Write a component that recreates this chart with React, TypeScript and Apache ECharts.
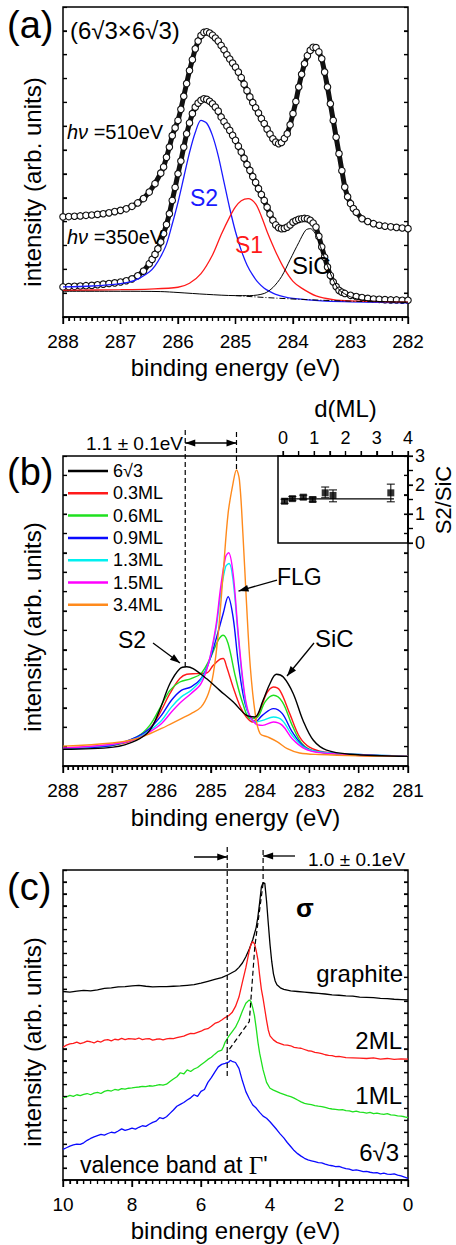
import React, { useEffect, useRef } from "react";
import * as echarts from "echarts";

const FONT = "'Liberation Sans', Arial, Helvetica, sans-serif";

// ---------- Panel (a): C 1s of the (6√3×6√3) layer ----------
const aSpec510: number[][] = [
  [288.0, 32.3], [287.9, 32.4], [287.8, 32.5], [287.7, 32.6], [287.6, 32.8], [287.5, 32.9], [287.4, 33.1], [287.3, 33.3],
  [287.2, 33.6], [287.1, 34.0], [287.0, 34.4], [286.9, 34.9], [286.8, 35.7], [286.7, 36.8], [286.6, 38.2], [286.5, 40.3],
  [286.4, 43.0], [286.3, 46.4], [286.25, 48.4], [286.2, 51.5], [286.15, 54.8], [286.1, 58.5], [286.05, 61.0], [286.0, 63.4],
  [285.95, 67.0], [285.9, 71.2], [285.85, 75.3], [285.8, 79.5], [285.75, 83.0], [285.7, 86.5], [285.65, 89.0], [285.6, 90.8],
  [285.55, 91.8], [285.5, 92.0], [285.45, 91.6], [285.4, 90.9], [285.35, 90.0], [285.3, 89.0], [285.25, 87.6], [285.2, 86.2],
  [285.15, 84.6], [285.1, 83.2], [285.05, 81.9], [285.0, 80.6], [284.95, 79.0], [284.9, 77.2], [284.85, 75.1], [284.8, 73.0],
  [284.75, 71.0], [284.7, 69.2], [284.65, 67.5], [284.6, 65.8], [284.55, 64.0], [284.5, 62.4], [284.45, 60.6], [284.4, 59.0],
  [284.35, 57.5], [284.3, 56.4], [284.25, 55.9], [284.2, 56.3], [284.15, 57.6], [284.1, 59.1], [284.05, 62.0], [284.0, 65.6],
  [283.95, 69.5], [283.9, 74.2], [283.85, 78.3], [283.8, 81.7], [283.75, 84.3], [283.7, 86.0], [283.65, 87.0], [283.6, 86.9],
  [283.55, 85.5], [283.5, 83.3], [283.45, 79.0], [283.4, 74.2], [283.35, 68.8], [283.3, 63.4], [283.25, 58.0], [283.2, 52.7],
  [283.15, 47.2], [283.1, 41.9], [283.05, 38.8], [283.0, 36.6], [282.95, 35.0], [282.9, 33.8], [282.8, 31.7], [282.7, 30.8],
  [282.6, 30.1], [282.5, 29.6], [282.4, 29.3], [282.3, 29.1], [282.2, 28.9], [282.1, 28.7], [282.0, 28.5],
];

const aSpec350: number[][] = [
  [288.0, 9.7], [287.9, 9.8], [287.8, 9.9], [287.7, 10.0], [287.6, 10.1], [287.5, 10.2], [287.4, 10.4], [287.3, 10.6],
  [287.2, 10.8], [287.1, 11.0], [287.0, 11.3], [286.9, 11.7], [286.8, 12.3], [286.7, 13.3], [286.6, 14.8], [286.5, 17.2],
  [286.45, 18.6], [286.4, 20.2], [286.35, 22.0], [286.3, 24.2], [286.25, 26.9], [286.2, 29.8], [286.15, 33.3], [286.1, 37.6],
  [286.05, 41.8], [286.0, 46.2], [285.95, 50.3], [285.9, 54.8], [285.85, 59.1], [285.8, 62.6], [285.75, 65.6], [285.7, 67.7],
  [285.65, 69.0], [285.6, 69.9], [285.55, 70.4], [285.5, 70.2], [285.45, 69.6], [285.4, 68.8], [285.35, 67.7], [285.3, 66.4],
  [285.25, 64.5], [285.2, 63.0], [285.15, 61.6], [285.1, 60.2], [285.05, 58.6], [285.0, 57.0], [284.95, 55.1], [284.9, 53.2],
  [284.85, 51.2], [284.8, 49.2], [284.75, 47.3], [284.7, 45.3], [284.65, 43.4], [284.6, 41.4], [284.55, 39.5], [284.5, 37.6],
  [284.45, 35.4], [284.4, 33.2], [284.35, 31.2], [284.3, 29.7], [284.25, 28.8], [284.2, 28.5], [284.15, 28.6], [284.1, 29.0],
  [284.05, 29.7], [284.0, 30.6], [283.95, 31.1], [283.9, 31.5], [283.85, 31.7], [283.8, 31.8], [283.75, 31.7], [283.7, 31.2],
  [283.65, 30.3], [283.6, 29.0], [283.55, 26.0], [283.5, 22.6], [283.45, 19.3], [283.4, 16.1], [283.35, 13.4], [283.3, 11.3],
  [283.25, 9.8], [283.2, 8.6], [283.15, 8.0], [283.1, 7.6], [283.0, 7.0], [282.9, 6.6], [282.8, 6.3], [282.7, 6.0],
  [282.6, 5.8], [282.5, 5.7], [282.4, 5.6], [282.3, 5.5], [282.2, 5.5], [282.1, 5.4], [282.0, 5.4],
];

const aFitS2: number[][] = [
  [288.0, 9.7], [287.5, 10.0], [287.0, 10.8], [286.75, 11.8], [286.5, 14.5], [286.4, 16.5], [286.3, 19.5], [286.2, 23.5],
  [286.1, 30.0], [286.0, 37.0], [285.9, 45.0], [285.8, 53.0], [285.7, 59.5], [285.6, 63.4], [285.5, 62.5], [285.4, 58.5],
  [285.3, 52.0], [285.2, 43.5], [285.1, 35.0], [285.0, 27.5], [284.9, 21.5], [284.8, 16.8], [284.7, 13.5], [284.6, 11.0],
  [284.5, 9.3], [284.4, 8.2], [284.3, 7.3], [284.15, 6.5], [284.0, 6.0], [283.5, 5.2], [283.0, 4.9], [282.5, 4.7], [282.0, 4.6],
];

const aFitS1: number[][] = [
  [288.0, 8.6], [287.0, 8.8], [286.5, 9.0], [286.0, 9.6], [285.8, 10.9], [285.6, 14.0], [285.4, 20.0], [285.25, 26.5],
  [285.1, 32.3], [285.0, 35.5], [284.9, 37.5], [284.78, 38.2], [284.65, 36.5], [284.55, 32.5], [284.45, 27.5], [284.3, 21.0],
  [284.15, 15.5], [284.0, 11.5], [283.85, 9.3], [283.6, 6.8], [283.3, 5.6], [283.0, 5.2], [282.0, 4.8],
];

const aFitSiC: number[][] = [
  [288.0, 8.3], [287.0, 8.3], [286.3, 8.2], [286.0, 7.9], [285.5, 7.3], [285.0, 6.9], [284.75, 6.9], [284.5, 7.6],
  [284.35, 9.5], [284.2, 13.0], [284.05, 18.5], [283.9, 24.0], [283.78, 28.0], [283.7, 28.5], [283.6, 26.5], [283.5, 21.5],
  [283.4, 16.5], [283.3, 12.0], [283.2, 8.8], [283.0, 6.5], [282.8, 5.5], [282.5, 5.0], [282.0, 4.8],
];

const aBackground: number[][] = [
  [285.0, 6.9], [284.5, 6.3], [284.0, 5.8], [283.5, 5.4], [283.0, 5.1], [282.5, 4.9], [282.0, 4.7],
];

// ---------- Panel (b): C 1s vs. coverage ----------
const bNames = ["6√3", "0.3ML", "0.6ML", "0.9ML", "1.3ML", "1.5ML", "3.4ML"];
const bColors = ["#000000", "#ff1a1a", "#1fe01f", "#0a0aff", "#00f0f0", "#ff00ff", "#ff8a1c"];

const b6r3: number[][] = [
  [288, 5.4], [286.98, 6.1], [286.51, 8.3], [286.24, 11.5], [286.04, 18], [285.83, 26.6], [285.63, 31.4], [285.49, 32],
  [285.36, 31.4], [285.09, 28.2], [284.82, 24.4], [284.55, 20.7], [284.28, 16.4], [284.11, 15.8], [283.94, 21.2],
  [283.8, 26.6], [283.67, 29.6], [283.53, 28.7], [283.33, 23.4], [283.13, 14.7], [282.92, 8.3], [282.65, 5.1],
  [282.18, 3.8], [281, 3.1],
];
const b03: number[][] = [
  [288, 5.9], [286.98, 6.7], [286.51, 8.8], [286.24, 12.1], [286.04, 16.9], [285.83, 23.4], [285.63, 28.2], [285.49, 29.6],
  [285.3, 29.8], [285.09, 30], [284.95, 32.5], [284.82, 34.4], [284.75, 34.7], [284.68, 32], [284.55, 25.5], [284.4, 19],
  [284.28, 15.8], [284.15, 14.2], [284.0, 18], [283.87, 23.4], [283.73, 25.5], [283.6, 24.4], [283.4, 16.9], [283.2, 9.4],
  [283.0, 6.1], [282.7, 4.5], [282.0, 3.4], [281, 3.1],
];
const b06: number[][] = [
  [288, 5.7], [287, 6.7], [286.5, 9.4], [286.24, 13.1], [286.04, 18.5], [285.83, 24.4], [285.63, 27.1], [285.4, 28.2],
  [285.2, 29.8], [285.0, 35.2], [284.85, 40.6], [284.75, 42.2], [284.65, 39.5], [284.5, 28.7], [284.35, 20.1], [284.2, 15.3],
  [284.05, 15.8], [283.9, 20.7], [283.73, 22.8], [283.55, 20.7], [283.35, 13.1], [283.15, 7.2], [282.9, 4.8], [282.3, 3.8],
  [281, 3.1],
];
const b09: number[][] = [
  [288, 5.6], [287, 6.7], [286.5, 9.4], [286.24, 12.1], [286.0, 16.4], [285.8, 21.2], [285.6, 24.4], [285.4, 25.5],
  [285.2, 28.2], [285.05, 33], [284.9, 40.6], [284.75, 49.2], [284.65, 54.6], [284.55, 48.1], [284.45, 34.1], [284.35, 23.4],
  [284.25, 17.4], [284.1, 14.2], [283.95, 16.4], [283.73, 18.5], [283.55, 16.9], [283.35, 11], [283.1, 6.1], [282.8, 4.5],
  [282.0, 3.7], [281, 3.1],
];
const b13: number[][] = [
  [288, 5.7], [287, 6.9], [286.5, 9], [286.24, 11.5], [286.0, 14.7], [285.8, 19], [285.6, 22.3], [285.4, 24.4],
  [285.2, 27.7], [285.05, 33], [284.9, 43.8], [284.8, 55.7], [284.7, 64.3], [284.63, 65.3], [284.55, 60], [284.45, 42.7],
  [284.35, 26.6], [284.25, 17.4], [284.1, 14.2], [283.95, 14.7], [283.73, 15.8], [283.55, 14.7], [283.35, 9.9], [283.1, 5.9],
  [282.8, 4.5], [282.0, 3.7], [281, 3.1],
];
const b15: number[][] = [
  [288, 5.8], [287, 7.0], [286.5, 8.8], [286.24, 11], [286.0, 13.7], [285.8, 17.4], [285.6, 20.7], [285.4, 23.4],
  [285.2, 26.6], [285.05, 33], [284.9, 44.9], [284.8, 57.8], [284.7, 67.5], [284.64, 68.8], [284.55, 62.2], [284.45, 43.8],
  [284.35, 27.7], [284.25, 18], [284.1, 13.7], [283.95, 13.1], [283.73, 14.2], [283.55, 13.1], [283.35, 8.8], [283.1, 5.6],
  [282.8, 4.3], [282.0, 3.6], [281, 3.1],
];
const b34: number[][] = [
  [288, 6.4], [287, 7.4], [286.5, 8.8], [286.24, 10.4], [286.0, 12.1], [285.8, 13.7], [285.6, 15.3], [285.4, 16.9],
  [285.2, 19], [285.05, 23.4], [284.95, 29.8], [284.85, 42.7], [284.75, 62.2], [284.65, 81.5], [284.55, 91.2],
  [284.48, 95.5], [284.42, 92.2], [284.35, 75], [284.28, 53.5], [284.2, 32], [284.1, 16.9], [284.0, 10.4], [283.85, 9.4],
  [283.65, 7.8], [283.45, 5.6], [283.2, 4.2], [282.8, 3.7], [282, 3.3], [281, 3.1],
];
const bSpectra = [b6r3, b03, b06, b09, b13, b15, b34];

// inset: S2/SiC ratio vs. thickness d(ML)
const insetD = [0.05, 0.3, 0.65, 0.95, 1.35, 1.6, 3.45];
const insetRatio = [1.44, 1.53, 1.58, 1.5, 1.73, 1.64, 1.73];
const insetLow = [1.37, 1.46, 1.51, 1.42, 1.56, 1.42, 1.42];
const insetHigh = [1.51, 1.6, 1.65, 1.58, 1.93, 1.83, 2.03];
const insetMeanLine: number[][] = [[-0.1, 1.52], [3.55, 1.52]];

const bS2Peak = 285.52;
const bFlgPeak = 284.48;

// ---------- Panel (c): valence band at Γ' ----------
const cGraphite: number[][] = [
  [10.0, 60.8], [9.8, 60.6], [9.6, 60.9], [9.4, 61.2], [9.2, 61.0], [9.0, 61.3], [8.8, 61.8], [8.6, 62.0], [8.4, 62.3],
  [8.2, 62.4], [8.0, 62.6], [7.8, 62.8], [7.6, 62.5], [7.4, 62.3], [7.2, 62.4], [7.0, 62.4], [6.8, 62.5], [6.6, 62.6],
  [6.4, 62.8], [6.2, 63.0], [6.0, 63.5], [5.8, 64.1], [5.6, 64.7], [5.4, 65.3], [5.2, 66.3], [5.0, 67.5], [4.9, 68.6],
  [4.8, 70.0], [4.7, 72.0], [4.6, 74.5], [4.5, 77.5], [4.4, 81.5], [4.35, 85], [4.3, 89.5], [4.25, 94.5], [4.2, 95.9],
  [4.15, 95.7], [4.1, 90], [4.05, 82.8], [4.0, 76], [3.95, 70.5], [3.9, 66.5], [3.85, 64.2], [3.8, 63.0], [3.7, 62.0],
  [3.6, 61.5], [3.4, 61.0], [3.2, 60.8], [3.0, 60.6], [2.8, 60.4], [2.6, 60.2], [2.4, 60.0], [2.2, 59.7], [2.0, 59.6],
  [1.8, 59.4], [1.6, 59.3], [1.4, 59.0], [1.2, 58.9], [1.0, 58.8], [0.8, 58.6], [0.6, 58.5], [0.4, 58.3], [0.2, 58.2],
  [0.0, 58.1],
];
const c2ML: number[][] = [
  [10.0, 42.8], [9.9, 43.5], [9.8, 43.9], [9.7, 44.1], [9.6, 44.5], [9.5, 44.0], [9.4, 44.3], [9.3, 44.8], [9.2, 44.6],
  [9.1, 44.2], [9.0, 44.8], [8.9, 44.5], [8.8, 45.1], [8.7, 45.3], [8.6, 44.9], [8.5, 45.4], [8.4, 45.2], [8.3, 45.7],
  [8.2, 45.3], [8.1, 45.6], [8.0, 45.5], [7.9, 45.4], [7.8, 45.8], [7.7, 45.3], [7.6, 45.5], [7.5, 45.6], [7.4, 45.1],
  [7.3, 45.4], [7.2, 45.5], [7.1, 45.2], [7.0, 45.5], [6.9, 45.7], [6.8, 45.6], [6.7, 45.9], [6.6, 46.2], [6.5, 46.4],
  [6.4, 46.9], [6.3, 47.3], [6.2, 47.2], [6.1, 47.6], [6.0, 48.0], [5.9, 48.6], [5.8, 48.8], [5.7, 49.6], [5.6, 50.5],
  [5.5, 50.9], [5.4, 51.6], [5.3, 52.4], [5.2, 53.0], [5.1, 54.0], [5.0, 56.0], [4.9, 59.0], [4.8, 63.8], [4.7, 68.5],
  [4.6, 74.0], [4.55, 76.0], [4.5, 76.9], [4.45, 76.2], [4.4, 74.0], [4.35, 71.0], [4.3, 66.0], [4.25, 61.5], [4.2, 58.5],
  [4.15, 55.0], [4.1, 51.5], [4.05, 48.4], [4.0, 46.5], [3.9, 45.2], [3.8, 44.4], [3.7, 44.0], [3.6, 43.6], [3.5, 43.5],
  [3.4, 43.3], [3.3, 42.8], [3.2, 42.6], [3.1, 42.5], [3.0, 42.1], [2.9, 41.7], [2.8, 41.6], [2.7, 41.2], [2.6, 41.0],
  [2.5, 40.8], [2.4, 40.4], [2.3, 40.2], [2.2, 40.1], [2.1, 39.8], [2.0, 39.9], [1.8, 39.5], [1.6, 39.4], [1.4, 39.3],
  [1.2, 39.2], [1.0, 39.4], [0.8, 39.0], [0.6, 39.2], [0.4, 38.9], [0.2, 39.1], [0.0, 39.0],
];
const c1ML: number[][] = [
  [10.0, 26.6], [9.9, 26.8], [9.8, 27.3], [9.7, 27.0], [9.6, 27.5], [9.5, 27.2], [9.4, 27.6], [9.3, 27.9], [9.2, 27.5],
  [9.1, 28.0], [9.0, 28.3], [8.9, 27.9], [8.8, 28.6], [8.7, 28.9], [8.6, 28.7], [8.5, 29.2], [8.4, 29.0], [8.3, 29.5],
  [8.2, 29.3], [8.1, 29.6], [8.0, 29.7], [7.9, 29.9], [7.8, 30.0], [7.7, 30.2], [7.6, 30.1], [7.5, 30.4], [7.4, 30.3],
  [7.3, 30.5], [7.2, 30.8], [7.1, 30.6], [7.0, 30.9], [6.9, 31.8], [6.8, 32.6], [6.7, 33.3], [6.6, 34.6], [6.5, 34.2],
  [6.4, 35.5], [6.3, 35.0], [6.2, 35.8], [6.1, 36.3], [6.0, 37.2], [5.9, 38.0], [5.8, 38.9], [5.7, 39.6], [5.6, 40.6],
  [5.5, 41.5], [5.4, 41.9], [5.35, 43.0], [5.3, 44.5], [5.2, 46.3], [5.1, 47.8], [5.0, 49.3], [4.9, 51.6], [4.8, 54.5],
  [4.7, 57.0], [4.6, 58.1], [4.55, 57.5], [4.5, 55.5], [4.45, 53.0], [4.4, 49.0], [4.35, 44.5], [4.3, 40.9], [4.2, 35.5],
  [4.1, 31.5], [4.0, 29.6], [3.9, 29.0], [3.8, 28.5], [3.7, 28.0], [3.6, 27.6], [3.5, 27.2], [3.4, 26.9], [3.3, 26.4],
  [3.2, 25.8], [3.1, 25.2], [3.0, 24.7], [2.9, 24.5], [2.8, 24.3], [2.7, 24.0], [2.6, 23.8], [2.5, 23.7], [2.4, 23.4],
  [2.3, 23.1], [2.2, 22.9], [2.1, 22.8], [2.0, 22.6], [1.9, 22.7], [1.8, 22.4], [1.7, 22.3], [1.6, 22.0], [1.5, 22.2],
  [1.4, 21.9], [1.3, 21.8], [1.2, 21.6], [1.1, 21.8], [1.0, 21.4], [0.9, 21.6], [0.8, 21.3], [0.7, 21.2], [0.6, 21.4],
  [0.5, 21.0], [0.4, 20.9], [0.3, 20.7], [0.2, 20.6], [0.1, 20.4], [0.0, 20.1],
];
const c6r3: number[][] = [
  [10.0, 9.9], [9.9, 10.4], [9.8, 10.9], [9.7, 11.3], [9.6, 11.6], [9.5, 11.5], [9.4, 12.0], [9.3, 12.8], [9.2, 13.4],
  [9.1, 13.9], [9.0, 14.3], [8.9, 14.7], [8.8, 14.5], [8.7, 15.0], [8.6, 15.4], [8.5, 15.2], [8.4, 15.8], [8.3, 16.5],
  [8.2, 16.0], [8.1, 16.3], [8.0, 16.7], [7.9, 16.4], [7.8, 17.0], [7.7, 17.5], [7.6, 17.3], [7.5, 18.0], [7.4, 18.6],
  [7.3, 19.0], [7.2, 20.1], [7.1, 19.8], [7.0, 20.4], [6.9, 21.5], [6.8, 22.6], [6.7, 23.8], [6.6, 24.4], [6.5, 25.0],
  [6.4, 25.8], [6.3, 26.5], [6.2, 27.5], [6.1, 27.0], [6.0, 28.6], [5.9, 29.2], [5.8, 31.5], [5.7, 33.0], [5.6, 34.8],
  [5.5, 36.5], [5.4, 37.3], [5.3, 37.6], [5.2, 38.0], [5.15, 38.6], [5.1, 38.3], [5.0, 37.9], [4.9, 36.0], [4.8, 32.0],
  [4.7, 28.5], [4.6, 26.2], [4.5, 24.2], [4.4, 23.2], [4.3, 21.8], [4.2, 20.6], [4.1, 19.9], [4.0, 18.8], [3.9, 17.5],
  [3.8, 16.2], [3.7, 14.8], [3.6, 13.6], [3.5, 12.1], [3.4, 10.8], [3.3, 9.5], [3.2, 8.5], [3.1, 7.7], [3.0, 7.0],
  [2.9, 6.5], [2.8, 6.2], [2.7, 5.9], [2.6, 5.6], [2.5, 5.5], [2.4, 5.1], [2.3, 4.8], [2.2, 4.6], [2.1, 4.3], [2.0, 4.4],
  [1.9, 4.0], [1.8, 3.7], [1.7, 3.5], [1.6, 3.1], [1.5, 3.3], [1.4, 3.0], [1.3, 2.7], [1.2, 2.8], [1.1, 2.5], [1.0, 2.3],
  [0.9, 2.4], [0.8, 2.0], [0.7, 2.2], [0.6, 1.9], [0.5, 1.8], [0.4, 2.0], [0.3, 1.6], [0.2, 1.3], [0.1, 0.9], [0.0, 0.5],
];
const cSpectra = [cGraphite, c2ML, c1ML, c6r3];
const cNames = ["graphite", "2ML", "1ML", "6√3 (VB)"];
const cColors = ["#000000", "#ff1a1a", "#1fe01f", "#0a0aff"];
const cLeftMark = 5.24;
const cRightMark = 4.2;
const cGuide: number[][] = [[4.2, 95.7], [4.44, 75.3], [4.6, 51.1], [5.26, 40.9]];

// ---------- layout ----------
const GRID_A = { left: 63, top: 7, width: 345, height: 310 };
const GRID_B = { left: 63, top: 456, width: 345, height: 310 };
const GRID_IN = { left: 283, top: 456, width: 125, height: 87 };
const GRID_C = { left: 63, top: 870, width: 345, height: 310 };
const A_RANGE = [282, 288];
const B_RANGE = [281, 288];
const C_RANGE = [0, 10];
const IN_X = [0, 4];
const IN_Y = [0, 3];

const xInv = (g: any, r: number[], v: number) => g.left + ((r[1] - v) / (r[1] - r[0])) * g.width;
const yPix = (g: any, v: number) => g.top + ((100 - v) / 100) * g.height;

const txt = { color: "#000", fontFamily: FONT };

// ---------- axes (drawn in their own chart layer) ----------
function xMain(gridIndex: number, r: number[], interval: number, nameGap: number, show: boolean) {
  return {
    show, type: "value", gridIndex, min: r[0], max: r[1], interval, inverse: true, position: "bottom",
    axisLine: { show: true, onZero: false, lineStyle: { color: "#000", width: 1.5 } },
    axisTick: { show: true, inside: false, length: 7, lineStyle: { color: "#000", width: 1.3 } },
    minorTick: { show: true, splitNumber: 10, length: 4, lineStyle: { color: "#000", width: 1.2 } },
    axisLabel: { show: true, ...txt, fontSize: 19, margin: 15 },
    splitLine: { show: false }, minorSplitLine: { show: false },
    name: "binding energy (eV)", nameLocation: "middle", nameGap,
    nameTextStyle: { ...txt, fontSize: 24 },
  };
}
function yMain(gridIndex: number, position: string, interval: number, show: boolean) {
  return {
    show, type: "value", gridIndex, position, min: 0, max: 100, interval,
    axisLine: { show: false, onZero: false },
    axisTick: { show: true, inside: true, length: 4, lineStyle: { color: "#000", width: 1.2 } },
    axisLabel: { show: false }, splitLine: { show: false },
  };
}
function axesOption(show: boolean): any {
  const frame = show
    ? { show: true, borderColor: "#000", borderWidth: 1.5, backgroundColor: "transparent" }
    : { show: false };
  return {
    grid: [{ ...GRID_A, ...frame }, { ...GRID_B, ...frame }, { ...GRID_IN, show: false }, { ...GRID_C, ...frame }],
    xAxis: [
      xMain(0, A_RANGE, 1, 38, show),
      xMain(1, B_RANGE, 1, 39, show),
      {
        show, type: "value", gridIndex: 2, position: "top", min: IN_X[0], max: IN_X[1], interval: 1,
        axisLine: { show: true, onZero: false, lineStyle: { color: "#000", width: 1.5 } },
        axisTick: { show: true, inside: false, length: 5, lineStyle: { color: "#000", width: 1.2 } },
        minorTick: { show: true, splitNumber: 2, length: 5, lineStyle: { color: "#000", width: 1.2 } },
        axisLabel: { ...txt, fontSize: 18, margin: 9 },
        splitLine: { show: false }, minorSplitLine: { show: false },
        name: "d(ML)", nameLocation: "middle", nameGap: 36, nameTextStyle: { ...txt, fontSize: 24 },
      },
      xMain(3, C_RANGE, 2, 38, show),
    ],
    yAxis: [
      yMain(0, "left", 100 / 13, show), yMain(0, "right", 100 / 13, show),
      yMain(1, "left", 6.25, show), yMain(1, "right", 6.25, show),
      {
        show, type: "value", gridIndex: 2, position: "right", min: IN_Y[0], max: IN_Y[1], interval: 1,
        axisLine: { show: true, onZero: false, lineStyle: { color: "#000", width: 1.5 } },
        axisTick: { show: true, inside: false, length: 5, lineStyle: { color: "#000", width: 1.2 } },
        minorTick: { show: true, splitNumber: 2, length: 5, lineStyle: { color: "#000", width: 1.2 } },
        axisLabel: { ...txt, fontSize: 18, margin: 7 },
        splitLine: { show: false }, minorSplitLine: { show: false },
      },
      yMain(3, "left", 100 / 26, show), yMain(3, "right", 100 / 26, show),
    ],
  };
}

// tick marks, placed along the same axis scales
function tickLine(x1: number, y1: number, x2: number, y2: number, w: number) {
  return { type: "line", z: 9, silent: true, shape: { x1, y1, x2, y2 }, style: { stroke: "#000", lineWidth: w } };
}
function xTickMarks(g: any, r: number[], major: number, nMinor: number): any[] {
  const els: any[] = [];
  const step = major / nMinor;
  const n = Math.round((r[1] - r[0]) / step);
  const yb = g.top + g.height;
  for (let k = 0; k <= n; k++) {
    const x = xInv(g, r, r[0] + k * step);
    const isMajor = k % nMinor === 0;
    els.push(tickLine(x, yb, x, yb + (isMajor ? 7 : 4), isMajor ? 1.3 : 1.1));
  }
  return els;
}
function yTickMarks(g: any, interval: number): any[] {
  const els: any[] = [];
  const n = Math.round(100 / interval);
  for (let k = 1; k < n; k++) {
    const y = yPix(g, k * interval);
    els.push(tickLine(g.left, y, g.left + 4, y, 1.2));
    els.push(tickLine(g.left + g.width - 4, y, g.left + g.width, y, 1.2));
  }
  return els;
}
function insetTickMarks(): any[] {
  const els: any[] = [];
  for (let k = 0; k <= 8; k++) {
    const x = GRID_IN.left + ((k * 0.5 - IN_X[0]) / (IN_X[1] - IN_X[0])) * GRID_IN.width;
    els.push(tickLine(x, GRID_IN.top, x, GRID_IN.top - 5, 1.2));
  }
  for (let k = 0; k <= 6; k++) {
    const y = GRID_IN.top + GRID_IN.height - ((k * 0.5 - IN_Y[0]) / (IN_Y[1] - IN_Y[0])) * GRID_IN.height;
    const xr = GRID_IN.left + GRID_IN.width;
    els.push(tickLine(xr, y, xr + 5, y, 1.2));
  }
  return els;
}

function arrow(x1: number, y1: number, x2: number, y2: number, both = false): any[] {
  const L = 10, W = 3.5;
  const head = (tx: number, ty: number, fx: number, fy: number) => {
    const dx = tx - fx, dy = ty - fy;
    const len = Math.hypot(dx, dy);
    const ux = dx / len, uy = dy / len;
    const bx = tx - ux * L, by = ty - uy * L;
    return {
      type: "polygon", z: 10,
      shape: { points: [[tx, ty], [bx - uy * W, by + ux * W], [bx + uy * W, by - ux * W]] },
      style: { fill: "#000" },
    };
  };
  const els: any[] = [{ type: "line", z: 10, shape: { x1, y1, x2, y2 }, style: { stroke: "#000", lineWidth: 1.3 } }];
  els.push(head(x2, y2, x1, y1));
  if (both) els.push(head(x1, y1, x2, y2));
  return els;
}
function dashed(x1: number, y1: number, x2: number, y2: number) {
  return { type: "line", z: 10, shape: { x1, y1, x2, y2 }, style: { stroke: "#000", lineWidth: 1.2, lineDash: [5, 3] } };
}
function label(text: string, x: number, y: number, fontSize: number, color = "#000", align = "left") {
  return {
    type: "text", z: 10, x, y,
    style: { text, fill: color, font: `${fontSize}px ${FONT}`, textAlign: align, textVerticalAlign: "middle" },
  };
}
function vlabel(text: string, x: number, y: number, fontSize: number) {
  return {
    type: "text", z: 10, x, y, rotation: Math.PI / 2,
    style: { text, fill: "#000", font: `${fontSize}px ${FONT}`, textAlign: "center", textVerticalAlign: "middle" },
  };
}

function dataOption(): any {
  const series: any[] = [];
  const measured = (data: number[][]) => ({
    type: "line", xAxisIndex: 0, yAxisIndex: 0, data,
    symbol: "circle", symbolSize: 6.5, showSymbol: true,
    itemStyle: { color: "#ffffff", borderColor: "#111", borderWidth: 1.1 },
    lineStyle: { color: "#111", width: 5 }, z: 3,
  });
  series.push({ name: "hν=510eV", ...measured(aSpec510) });
  series.push({ name: "hν=350eV", ...measured(aSpec350) });
  series.push({ name: "S2 fit", type: "line", xAxisIndex: 0, yAxisIndex: 0, data: aFitS2, symbol: "none", smooth: 0.3, lineStyle: { color: "#1a1aff", width: 1.3 }, z: 4 });
  series.push({ name: "S1 fit", type: "line", xAxisIndex: 0, yAxisIndex: 0, data: aFitS1, symbol: "none", smooth: 0.3, lineStyle: { color: "#ff1a1a", width: 1.3 }, z: 4 });
  series.push({ name: "SiC fit", type: "line", xAxisIndex: 0, yAxisIndex: 0, data: aFitSiC, symbol: "none", smooth: 0.3, lineStyle: { color: "#000", width: 1 }, z: 4 });
  series.push({ name: "background", type: "line", xAxisIndex: 0, yAxisIndex: 0, data: aBackground, symbol: "none", lineStyle: { color: "#000", width: 1, type: [6, 2, 1, 2] }, z: 4 });
  bSpectra.forEach((d, i) => {
    series.push({
      name: bNames[i], type: "line", xAxisIndex: 1, yAxisIndex: 2, data: d, symbol: "none", smooth: 0.35,
      lineStyle: { color: bColors[i], width: 1.4 }, itemStyle: { color: bColors[i] }, z: 3 + (i === 0 ? 7 : i),
    });
  });
  series.push({ name: "mean", type: "line", xAxisIndex: 2, yAxisIndex: 4, data: insetMeanLine, symbol: "none", clip: false, lineStyle: { color: "#000", width: 1.2 } });
  series.push({
    name: "error", type: "custom", xAxisIndex: 2, yAxisIndex: 4,
    data: insetD.map((d, i) => [d, insetLow[i], insetHigh[i]]),
    renderItem: (_p: any, api: any) => {
      const x = api.value(0);
      const a = api.coord([x, api.value(1)]);
      const b = api.coord([x, api.value(2)]);
      const w = 4;
      const st = { stroke: "#000", lineWidth: 1 };
      return {
        type: "group", children: [
          { type: "line", shape: { x1: a[0], y1: a[1], x2: b[0], y2: b[1] }, style: st },
          { type: "line", shape: { x1: a[0] - w, y1: a[1], x2: a[0] + w, y2: a[1] }, style: st },
          { type: "line", shape: { x1: b[0] - w, y1: b[1], x2: b[0] + w, y2: b[1] }, style: st },
        ],
      };
    },
  });
  series.push({ name: "S2/SiC", type: "scatter", xAxisIndex: 2, yAxisIndex: 4, data: insetD.map((d, i) => [d, insetRatio[i]]), symbol: "rect", symbolSize: 7, itemStyle: { color: "#000" }, z: 5 });
  cSpectra.forEach((d, i) => {
    series.push({
      name: cNames[i], type: "line", xAxisIndex: 3, yAxisIndex: 5, data: d, symbol: "none",
      lineStyle: { color: cColors[i], width: 1.3 }, z: 3,
    });
  });

  const bL = xInv(GRID_B, B_RANGE, bS2Peak);
  const bR = xInv(GRID_B, B_RANGE, bFlgPeak);
  const cL = xInv(GRID_C, C_RANGE, cLeftMark);
  const cR = xInv(GRID_C, C_RANGE, cRightMark);
  const guidePts = cGuide.map((p) => [xInv(GRID_C, C_RANGE, p[0]), yPix(GRID_C, p[1])]);

  const hv = (v: string, y: number) => ({
    type: "text", z: 10, x: 67, y,
    style: {
      text: `{i|hν} =${v}`, fill: "#000", font: `20px ${FONT}`, textVerticalAlign: "middle",
      rich: { i: { fontStyle: "italic", fontSize: 20, fontFamily: FONT } },
    },
  });

  const graphic: any[] = [
    ...xTickMarks(GRID_A, A_RANGE, 1, 10),
    ...xTickMarks(GRID_B, B_RANGE, 1, 10),
    ...xTickMarks(GRID_C, C_RANGE, 2, 10),
    ...yTickMarks(GRID_A, 100 / 13),
    ...yTickMarks(GRID_B, 6.25),
    ...yTickMarks(GRID_C, 100 / 26),
    ...insetTickMarks(),
    label("(a)", 7, 25, 38),
    label("(b)", 7, 472, 38),
    label("(c)", 7, 887, 38),
    vlabel("intensity (arb. units)", 32, 182, 24),
    vlabel("intensity (arb. units)", 32, 627, 24),
    vlabel("intensity (arb. units)", 32, 1042, 24),
    label("(6√3×6√3)", 70, 30, 24),
    hv("510eV", 132), hv("350eV", 237),
    label("S2", 190, 198, 23, "#1a1aff"),
    label("S1", 235, 245, 23, "#ff1a1a"),
    label("SiC", 292, 265, 24),
    { type: "rect", z: 10, shape: { x: 278, y: 456, width: 130, height: 87 }, style: { fill: "none", stroke: "#000", lineWidth: 1.5 } },
    vlabel("S2/SiC", 443, 500, 22),
    dashed(bL, 430, bL, 667),
    dashed(bR, 432, bR, 470),
    ...arrow(bL, 443, bR, 443, true),
    label("1.1 ± 0.1eV", 183, 443, 19, "#000", "right"),
    label("FLG", 277, 577, 23),
    ...arrow(277, 580, bR + 2, 591),
    label("S2", 118, 640, 23),
    ...arrow(153, 643, 180, 663),
    label("SiC", 315, 638, 24),
    ...arrow(314, 643, 287, 676),
    dashed(cL, 847, cL, 1078),
    dashed(cR, 850, cR, guidePts[0][1]),
    {
      type: "polyline", z: 10, shape: { points: guidePts },
      style: { stroke: "#000", lineWidth: 1.2, lineDash: [5, 3], fill: "none" },
    },
    ...arrow(194, 857, cL, 857),
    ...arrow(295, 856, cR, 856),
    label("1.0 ± 0.1eV", 308, 859, 19),
    { type: "text", z: 10, x: 296, y: 908, style: { text: "σ", fill: "#000", font: `bold 26px ${FONT}`, textVerticalAlign: "middle" } },
    label("graphite", 403, 973, 24, "#000", "right"),
    label("2ML", 402, 1040, 24, "#000", "right"),
    label("1ML", 402, 1095, 24, "#000", "right"),
    label("6√3", 399, 1152, 24, "#000", "right"),
    {
      type: "text", z: 10, x: 80, y: 1165,
      style: {
        text: "valence band at {g|Γ}'", fill: "#000", font: `23px ${FONT}`, textVerticalAlign: "middle",
        rich: { g: { fontFamily: "'Liberation Serif', 'DejaVu Serif', serif", fontSize: 25 } },
      },
    },
  ];

  return {
    animation: false,
    textStyle: { fontFamily: FONT },
    ...axesOption(false),
    legend: {
      data: bNames.map((n) => ({ name: n, icon: "rect" })),
      orient: "vertical", left: 68, top: 462, itemWidth: 40, itemHeight: 2.5, itemGap: 4.3,
      textStyle: { ...txt, fontSize: 18, lineHeight: 18, padding: [0, 0, 0, 0] },
      padding: 0, selectedMode: false,
    },
    graphic,
    series,
  };
}

export default function App() {
  const axesRef = useRef<HTMLDivElement>(null);
  const dataRef = useRef<HTMLDivElement>(null);

  useEffect(() => {
    const axesChart = echarts.init(axesRef.current!, null, { renderer: "svg" });
    const axesSeries = [0, 1, 2, 3].map((g) => ({
      type: "line", xAxisIndex: g, yAxisIndex: g === 2 ? 4 : g === 3 ? 5 : g * 2, data: [], symbol: "none",
    }));
    axesChart.setOption({ animation: false, textStyle: { fontFamily: FONT }, ...axesOption(true), series: axesSeries });

    const dataChart = echarts.init(dataRef.current!, null, { renderer: "svg" });
    dataChart.setOption(dataOption());

    return () => {
      dataChart.dispose();
      axesChart.dispose();
    };
  }, []);

  const box: React.CSSProperties = { position: "absolute", left: 0, top: 0, width: 456, height: 1245 };
  return (
    <div style={{ position: "fixed", left: 0, top: 0, width: 456, height: 1245, background: "#fff" }}>
      <div ref={axesRef} style={box} />
      <div ref={dataRef} style={box} />
    </div>
  );
}
